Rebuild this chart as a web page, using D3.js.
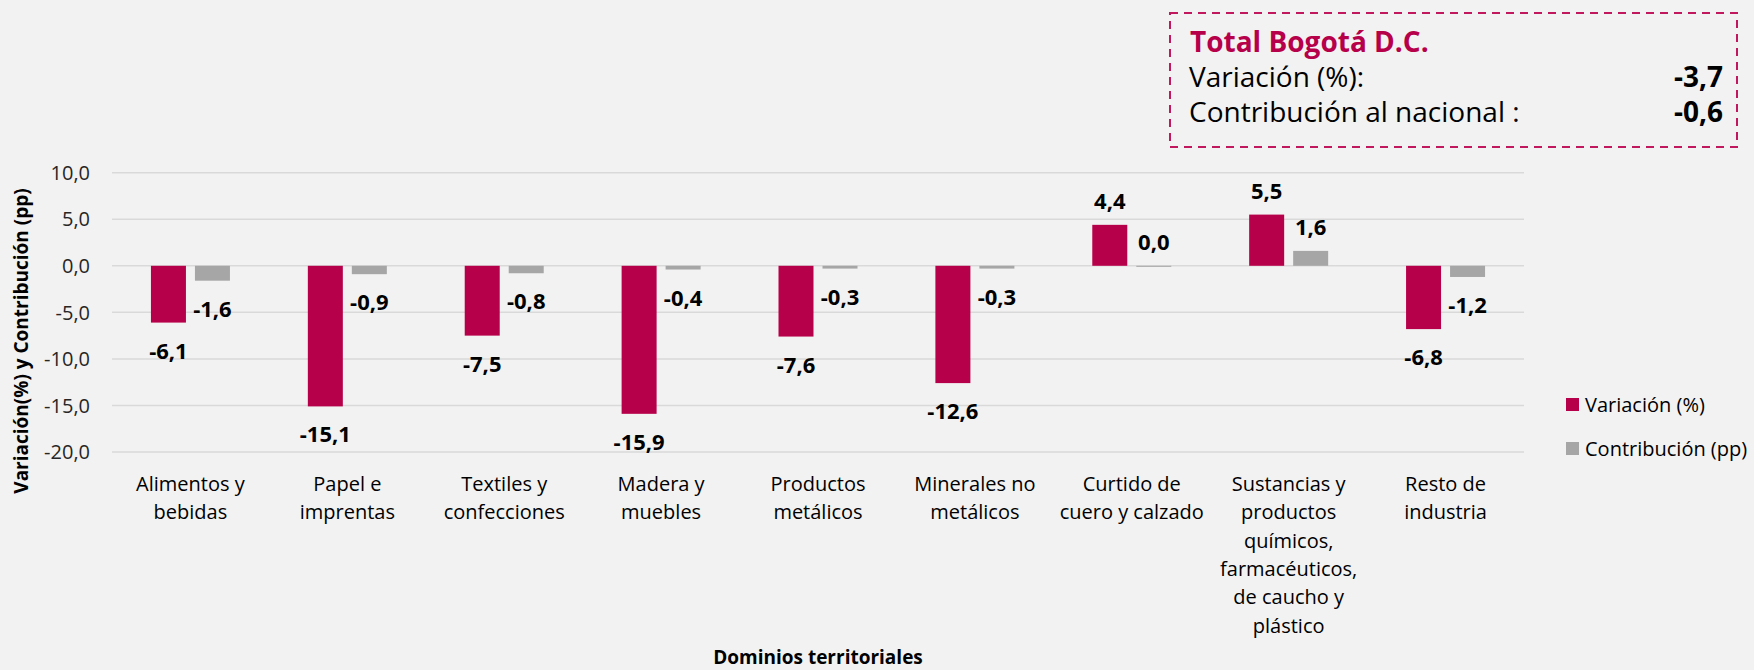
<!DOCTYPE html>
<html lang="es">
<head>
  <meta charset="UTF-8">
  <title>Variación y contribución - Bogotá D.C.</title>
  <style>
    html, body { margin: 0; padding: 0; background: #f2f2f2; }
    svg { display: block; }
    text { font-family: "Open Sans", "Noto Sans", sans-serif; fill: #000; }
    .grid line { stroke: #d9d9d9; stroke-width: 1.5px; }
    .tick-label { font-size: 20px; fill: #262626; }
    .cat-label { font-size: 20px; fill: #000; }
    .val-label { font-size: 22px; font-weight: bold; }
  </style>
</head>
<body>
  <svg width="1754" height="670"></svg>

  <script src="https://d3js.org/d3.v7.min.js"></script>
  <script>
    // categorías del eje x (cada elemento es una lista de líneas)
    var categorias = [
      ["Alimentos y", "bebidas"],
      ["Papel e", "imprentas"],
      ["Textiles y", "confecciones"],
      ["Madera y", "muebles"],
      ["Productos", "metálicos"],
      ["Minerales no", "metálicos"],
      ["Curtido de", "cuero y calzado"],
      ["Sustancias y", "productos", "químicos,", "farmacéuticos,", "de caucho y", "plástico"],
      ["Resto de", "industria"]
    ];
    var variacion    = [-6.1, -15.1, -7.5, -15.9, -7.6, -12.6, 4.4, 5.5, -6.8];
    var contribucion = [-1.6, -0.9, -0.8, -0.4, -0.3, -0.3, 0.0, 1.6, -1.2];
    var yTicks = [10, 5, 0, -5, -10, -15, -20];

    var series = [
      { nombre: "Variación (%)", valores: variacion, color: "#b7004a" },
      { nombre: "Contribución (pp)", valores: contribucion, color: "#a6a6a6" }
    ];
    var total = { titulo: "Total Bogotá D.C.", variacion: -3.7, contribucion: -0.6 };

    var fmt = function(v) { return d3.format(".1f")(v).replace("−", "-").replace(".", ","); };

    var svg = d3.select("svg");
    var plotLeft = 112, plotRight = 1524, plotTop = 172.7, plotBottom = 452;

    var x = d3.scaleBand()
        .domain(d3.range(categorias.length))
        .range([plotLeft, plotRight]);

    var y = d3.scaleLinear()
        .domain([-20, 10])
        .range([plotBottom, plotTop]);

    var barW = 35, gap = 9;

    // líneas de cuadrícula
    svg.append("g").attr("class", "grid")
      .selectAll("line")
      .data(yTicks)
      .enter().append("line")
        .attr("x1", plotLeft).attr("x2", plotRight)
        .attr("y1", d => y(d)).attr("y2", d => y(d));

    svg.append("g")
      .selectAll("text")
      .data(yTicks)
      .enter().append("text")
        .attr("class", "tick-label")
        .attr("x", 90)
        .attr("y", d => y(d))
        .attr("dy", "0.36em")
        .attr("text-anchor", "end")
        .text(fmt);

    // barras
    series.forEach(function(s, i) {
      var off = i === 0 ? -(barW + gap / 2) : gap / 2;
      var g = svg.append("g");
      g.selectAll("rect")
        .data(s.valores)
        .enter().append("rect")
          .attr("x", (d, j) => x(j) + x.bandwidth() / 2 + off)
          .attr("width", barW)
          .attr("y", d => y(Math.max(0, d)))
          .attr("height", d => Math.max(Math.abs(y(d) - y(0)), d === 0 ? 1 : 0))
          .attr("fill", s.color);

      g.selectAll("text")
        .data(s.valores)
        .enter().append("text")
          .attr("class", "val-label")
          .attr("text-anchor", "middle")
          .attr("x", (d, j) => x(j) + x.bandwidth() / 2 + off + barW / 2)
          .attr("y", d => d < 0 ? y(d) + 36 : y(d) - 16)
          .text(fmt);
    });

    // etiquetas de categoría
    var cat = svg.append("g")
      .selectAll("text")
      .data(categorias)
      .enter().append("text")
        .attr("class", "cat-label")
        .attr("text-anchor", "middle")
        .attr("x", (d, j) => x(j) + x.bandwidth() / 2)
        .attr("y", 491);
    cat.selectAll("tspan")
      .data(d => d)
      .enter().append("tspan")
        .attr("x", function() { return d3.select(this.parentNode).attr("x"); })
        .attr("dy", (d, k) => k === 0 ? 0 : 28.3)
        .text(d => d);

    // títulos de ejes
    svg.append("text")
      .attr("x", 818).attr("y", 664)
      .attr("text-anchor", "middle")
      .style("font-size", "19px").style("font-weight", "bold")
      .text("Dominios territoriales");

    svg.append("text")
      .attr("transform", "translate(28,341) rotate(-90)")
      .attr("text-anchor", "middle")
      .style("font-size", "19px").style("font-weight", "bold")
      .text("Variación(%) y Contribución (pp)");

    // leyenda
    var leg = svg.append("g")
      .selectAll("g")
      .data(series)
      .enter().append("g")
        .attr("transform", (d, i) => "translate(1566," + (398 + i * 44) + ")");
    leg.append("rect").attr("width", 13).attr("height", 13).attr("fill", d => d.color);
    leg.append("text")
      .attr("x", 19).attr("y", 14)
      .style("font-size", "20px")
      .text(d => d.nombre);

    // recuadro del total
    var box = svg.append("g");
    box.append("rect")
      .attr("x", 1170).attr("y", 13)
      .attr("width", 567).attr("height", 134)
      .attr("fill", "none")
      .attr("stroke", "#c0175d")
      .attr("stroke-width", 2)
      .attr("stroke-dasharray", "8,6");
    box.append("text")
      .attr("x", 1190).attr("y", 52)
      .style("font-size", "28px").style("font-weight", "bold")
      .style("fill", "#b7004a")
      .text(total.titulo);
    box.append("text")
      .attr("x", 1189).attr("y", 87)
      .style("font-size", "28px")
      .text("Variación (%):");
    box.append("text")
      .attr("x", 1189).attr("y", 122)
      .style("font-size", "28px")
      .text("Contribución al nacional :");
    box.append("text")
      .attr("x", 1723).attr("y", 87)
      .attr("text-anchor", "end")
      .style("font-size", "28px").style("font-weight", "bold")
      .text(fmt(total.variacion));
    box.append("text")
      .attr("x", 1723).attr("y", 122)
      .attr("text-anchor", "end")
      .style("font-size", "28px").style("font-weight", "bold")
      .text(fmt(total.contribucion));
  </script>
</body>
</html>
